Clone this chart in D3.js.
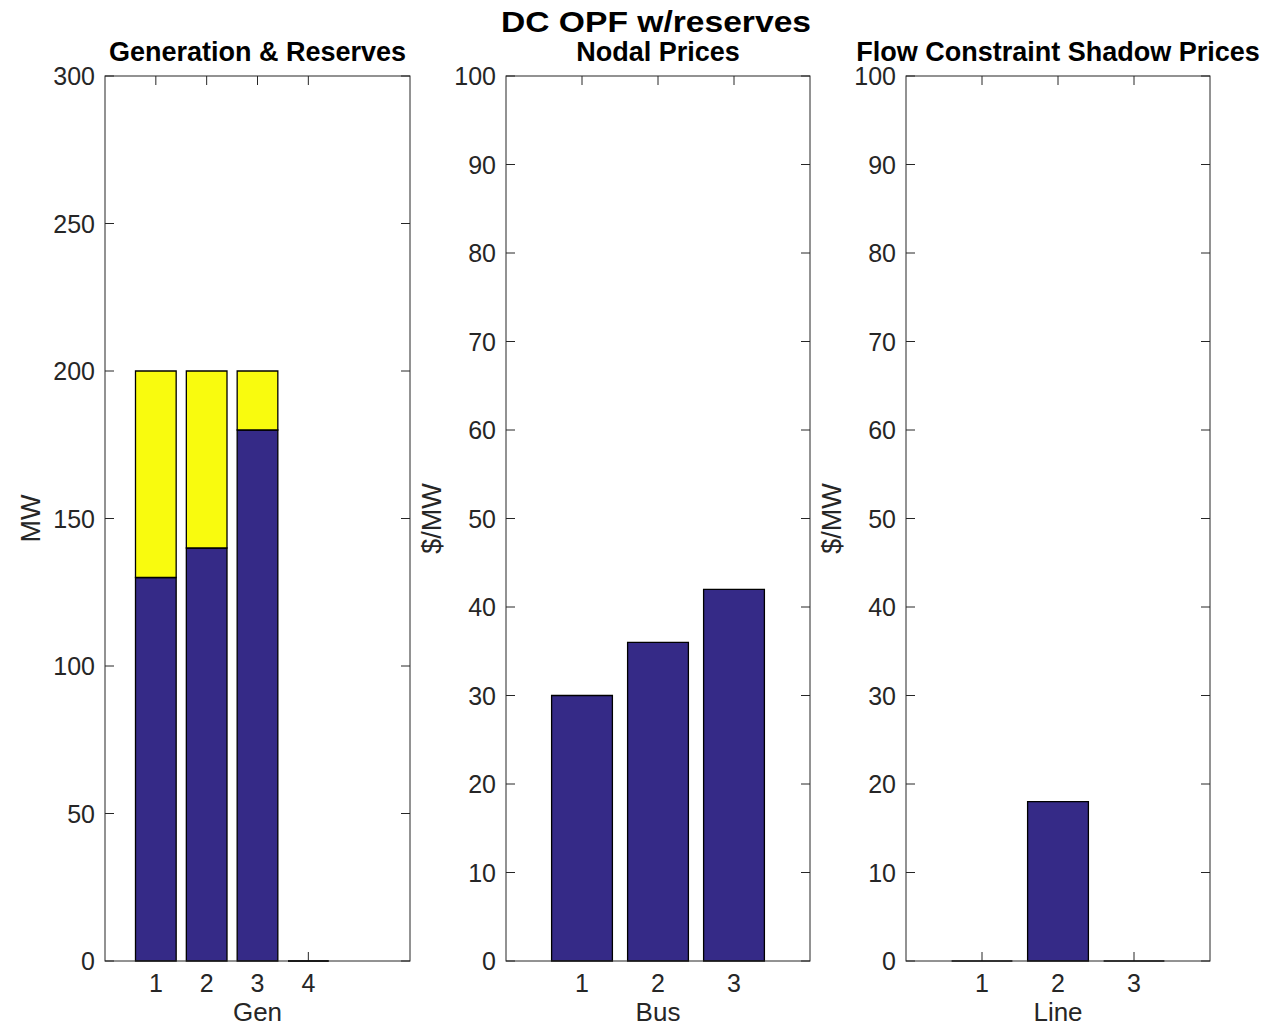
<!DOCTYPE html>
<html>
<head>
<meta charset="utf-8">
<script src="https://cdn.jsdelivr.net/npm/d3@7"></script>
<style>
  html, body { margin: 0; padding: 0; background: #fff; }
  svg { display: block; }
  text { font-family: "Liberation Sans", Arial, Helvetica, sans-serif; }
</style>
</head>
<body>
<svg id="chart" width="1274" height="1026"></svg>
<script>
// Generation & reserves per generator (MW)
const genCategories = [1, 2, 3, 4];
const genDispatch = [130, 140, 180, 0];
const genReserves = [70, 60, 20, 0];
const genYTicks = [0, 50, 100, 150, 200, 250, 300];

// Nodal prices per bus ($/MW)
const busCategories = [1, 2, 3];
const busPrices = [30, 36, 42];

// Flow constraint shadow prices per line ($/MW)
const lineCategories = [1, 2, 3];
const lineShadowPrices = [0, 18, 0];

const priceYTicks = [0, 10, 20, 30, 40, 50, 60, 70, 80, 90, 100];

const BLUE = "#352a87";
const YELLOW = "#f9fb0e";
const AXIS = "#262626";

const svg = d3.select("#chart");

svg.append("text")
  .attr("x", 656).attr("y", 32)
  .attr("text-anchor", "middle")
  .attr("font-size", 30).attr("font-weight", "bold")
  .attr("textLength", 310).attr("lengthAdjust", "spacingAndGlyphs")
  .attr("fill", "#000")
  .text("DC OPF w/reserves");

function panel(opts) {
  const { left, right, top, bottom } = opts;
  const x = d3.scaleLinear().domain(opts.xDomain).range([left, right]);
  const y = d3.scaleLinear().domain(opts.yDomain).range([bottom, top]);
  const g = svg.append("g");
  const tickLen = 9;

  // tick marks on all four sides (inward)
  const xt = g.append("g");
  opts.xTicks.forEach(t => {
    xt.append("line").attr("x1", x(t)).attr("x2", x(t))
      .attr("y1", bottom).attr("y2", bottom - tickLen)
      .attr("stroke", AXIS).attr("stroke-width", 1);
    xt.append("line").attr("x1", x(t)).attr("x2", x(t))
      .attr("y1", top).attr("y2", top + tickLen)
      .attr("stroke", AXIS).attr("stroke-width", 1);
  });
  opts.yTicks.forEach(t => {
    xt.append("line").attr("x1", left).attr("x2", left + tickLen)
      .attr("y1", y(t)).attr("y2", y(t))
      .attr("stroke", AXIS).attr("stroke-width", 1);
    xt.append("line").attr("x1", right).attr("x2", right - tickLen)
      .attr("y1", y(t)).attr("y2", y(t))
      .attr("stroke", AXIS).attr("stroke-width", 1);
  });

  // stacked bars
  const barW = (x(1) - x(0)) * 0.8;
  opts.series.forEach(s => {
    g.append("g").selectAll("path")
      .data(opts.categories.map((c, i) => ({ c, base: s.base ? s.base[i] : 0, v: s.values[i] })))
      .join("path")
      .attr("d", d => {
        const x0 = x(d.c) - barW / 2;
        const y0 = y(d.base);
        const y1 = y(d.base + d.v);
        return `M${x0},${y0}H${x0 + barW}V${y1}H${x0}Z`;
      })
      .attr("fill", s.color)
      .attr("stroke", "#000")
      .attr("stroke-width", 1.3);
  });

  // axes box
  g.append("rect")
    .attr("x", left).attr("y", top)
    .attr("width", right - left).attr("height", bottom - top)
    .attr("fill", "none").attr("stroke", AXIS).attr("stroke-width", 1);

  // tick labels
  g.append("g").selectAll("text").data(opts.xTicks).join("text")
    .attr("x", d => x(d)).attr("y", bottom + 31)
    .attr("text-anchor", "middle").attr("font-size", 25).attr("fill", AXIS)
    .text(d => d);
  g.append("g").selectAll("text").data(opts.yTicks).join("text")
    .attr("x", left - 10).attr("y", d => y(d) + 9)
    .attr("text-anchor", "end").attr("font-size", 25).attr("fill", AXIS)
    .text(d => d);

  // axis labels
  g.append("text")
    .attr("x", (left + right) / 2).attr("y", bottom + 60)
    .attr("text-anchor", "middle").attr("font-size", 26).attr("fill", AXIS)
    .text(opts.xLabel);
  g.append("text")
    .attr("transform", `translate(${opts.yLabelX},${(top + bottom) / 2}) rotate(-90)`)
    .attr("text-anchor", "middle").attr("font-size", 27).attr("fill", AXIS)
    .text(opts.yLabel);

  // title
  g.append("text")
    .attr("x", (left + right) / 2).attr("y", top - 15)
    .attr("text-anchor", "middle").attr("font-size", 27).attr("font-weight", "bold")
    .attr("fill", "#000")
    .text(opts.title);
}

panel({
  left: 105, right: 410, top: 76, bottom: 961,
  xDomain: [0, 6], yDomain: [0, 300],
  xTicks: genCategories, yTicks: genYTicks,
  categories: genCategories,
  series: [
    { values: genDispatch, color: BLUE },
    { values: genReserves, base: genDispatch, color: YELLOW }
  ],
  title: "Generation & Reserves", xLabel: "Gen", yLabel: "MW", yLabelX: 40
});

panel({
  left: 506, right: 810, top: 76, bottom: 961,
  xDomain: [0, 4], yDomain: [0, 100],
  xTicks: busCategories, yTicks: priceYTicks,
  categories: busCategories,
  series: [{ values: busPrices, color: BLUE }],
  title: "Nodal Prices", xLabel: "Bus", yLabel: "$/MW", yLabelX: 441
});

panel({
  left: 906, right: 1210, top: 76, bottom: 961,
  xDomain: [0, 4], yDomain: [0, 100],
  xTicks: lineCategories, yTicks: priceYTicks,
  categories: lineCategories,
  series: [{ values: lineShadowPrices, color: BLUE }],
  title: "Flow Constraint Shadow Prices", xLabel: "Line", yLabel: "$/MW", yLabelX: 841
});
</script>
</body>
</html>
